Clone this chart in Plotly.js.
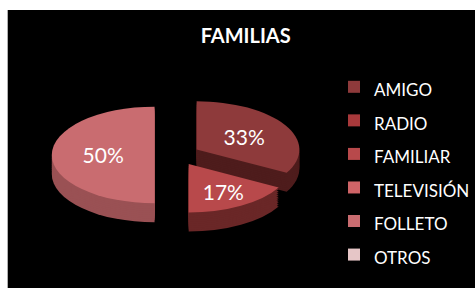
<!DOCTYPE html>
<html>
<head>
<meta charset="utf-8">
<script src="https://cdn.plot.ly/plotly-3.0.1.min.js"></script>
<style>
  html, body { margin:0; padding:0; background:#ffffff; width:475px; height:288px; overflow:hidden; }
  #edge { position:absolute; left:7px; top:10px; width:1px; height:278px; background:#b0b0b0; }
  #chart { position:absolute; left:8px; top:10px; width:467px; height:278px; }
</style>
</head>
<body>
<div id="edge"></div>
<div id="chart"></div>
<script>
// ---- data ----
var categories = ['AMIGO', 'RADIO', 'FAMILIAR', 'TELEVISIÓN', 'FOLLETO', 'OTROS'];
var values = [33, 0, 17, 0, 50, 0];
var chartTitle = 'FAMILIAS';

// ---- styles ----
var topColors   = ['#8e3a3b', '#a8393b', '#b8494b', '#cf6467', '#c96c70', '#e6c6c7'];
var sideColors  = ['#4e1c1c', '#5a1e1e', '#6a2727', '#7a3434', '#9a5154', '#9a8080'];
var pulls = [0.22, 0.22, 0.22, 0.22, 0.22, 0.22];
var squash = 0.47;      // vertical flattening of the pie (3-D tilt look)
var depth = 19;         // px thickness of the pie
var nDepth = 10;

var domainX = [0.094, 0.632];
var domainY = [0.027, 0.930];

var legendLabels = categories.map(function (c) {
  return '<span style="font-size:17px">' + c + '</span>';
});

var traces = [];
for (var d = 0; d < nDepth; d++) {
  traces.push({
    type: 'pie',
    labels: legendLabels,
    values: values,
    sort: false,
    direction: 'clockwise',
    rotation: 0,
    pull: pulls,
    marker: { colors: sideColors, line: { width: 0 } },
    textinfo: 'none',
    hoverinfo: 'skip',
    showlegend: false,
    domain: { x: domainX, y: domainY }
  });
}
traces.push({
  type: 'pie',
  labels: legendLabels,
  values: values,
  sort: false,
  direction: 'clockwise',
  rotation: 0,
  pull: pulls,
  marker: { colors: topColors, line: { width: 0 } },
  textinfo: 'percent',
  textposition: 'inside',
  insidetextorientation: 'horizontal',
  textfont: { family: 'Lato, "Open Sans", sans-serif', size: 21, color: '#ffffff' },
  hoverinfo: 'label+percent',
  showlegend: true,
  domain: { x: domainX, y: domainY }
});

var layout = {
  width: 467,
  height: 278,
  paper_bgcolor: '#000000',
  plot_bgcolor: '#000000',
  margin: { l: 0, r: 0, t: 0, b: 0 },
  title: {
    text: '<b>' + chartTitle + '</b>',
    font: { family: 'Lato, "Open Sans", sans-serif', size: 20, color: '#ffffff' },
    x: 0.51, xanchor: 'center', xref: 'paper',
    y: 0.905, yanchor: 'middle', yref: 'container'
  },
  showlegend: true,
  legend: {
    x: 0.700, xanchor: 'left',
    y: 0.802, yanchor: 'top',
    font: { family: 'Lato, "Open Sans", sans-serif', size: 23.5, color: '#ffffff' },
    bgcolor: 'rgba(0,0,0,0)',
    traceorder: 'normal'
  }
};

var gd = document.getElementById('chart');

function tilt() {
  var groups = gd.querySelectorAll('.pielayer .trace');
  var nT = groups.length;
  groups.forEach(function (g, i) {
    var cd = gd.calcdata[i];
    if (!cd || !cd[0]) return;
    var cy = cd[0].cy;
    var shift = (i < nT - 1) ? depth * (nDepth - i) / nDepth : 0;
    g.setAttribute('transform',
      'translate(0,' + shift + ') translate(0,' + cy + ') scale(1,' + squash + ') translate(0,' + (-cy) + ')');
    if (i === nT - 1) {
      g.querySelectorAll('text.slicetext').forEach(function (st) {
        var cur = st.getAttribute('transform') || '';
        if (st.__tilted && st.__tilted === cur) return;
        var orig = cur;
        var bb = st.getBBox();
        var cx = bb.x + bb.width / 2, cyy = bb.y + bb.height / 2;
        var x0 = cx, y0 = cyy;
        var m = st.transform.baseVal.consolidate();
        if (m) {
          var mm = m.matrix;
          x0 = mm.a * cx + mm.c * cyy + mm.e;
          y0 = mm.b * cx + mm.d * cyy + mm.f;
        }
        var nt = 'translate(' + x0 + ',' + y0 + ') scale(1,' + (1 / squash) + ') translate(' + (-x0) + ',' + (-y0) + ') ' + orig;
        st.setAttribute('transform', nt);
        st.__tilted = st.getAttribute('transform');
      });
    }
  });
}

Plotly.newPlot(gd, traces, layout, { displayModeBar: false, staticPlot: true }).then(function () {
  tilt();
  gd.on('plotly_afterplot', tilt);
});
</script>
</body>
</html>
